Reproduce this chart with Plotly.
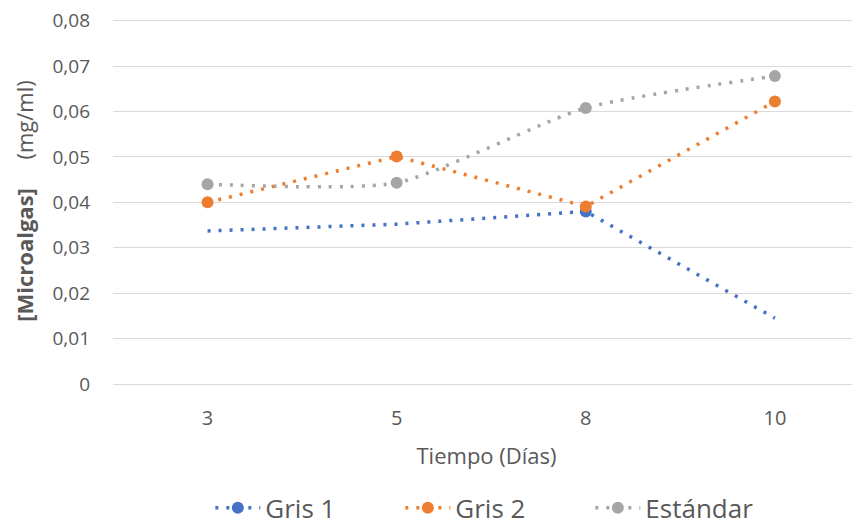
import plotly.graph_objects as go

dias = ["3", "5", "8", "10"]
gris1 = [0.0337, 0.0352, 0.0380, 0.0145]
gris2 = [0.0400, 0.0501, 0.0391, 0.0622]
estandar = [0.0440, 0.0443, 0.0608, 0.0678]
yticks = [0, 0.01, 0.02, 0.03, 0.04, 0.05, 0.06, 0.07, 0.08]
yticklabels = ["0", "0,01", "0,02", "0,03", "0,04", "0,05", "0,06", "0,07", "0,08"]

FONT = "Open Sans"
GRAY = "#595959"
DASH = "3px,8px"

fig = go.Figure()
# Gris 1: line without markers, plus its single visible marker (day 8)
fig.add_trace(go.Scatter(
    x=dias, y=gris1, name="Gris 1", mode="lines", showlegend=False,
    legendgroup="g1",
    line=dict(color="#4472C4", width=3.5, dash=DASH),
))
fig.add_trace(go.Scatter(
    x=[dias[2]], y=[gris1[2]], name="Gris 1", mode="lines+markers",
    legendgroup="g1", legendrank=1,
    line=dict(color="#4472C4", width=3.5, dash=DASH),
    marker=dict(color="#4472C4", size=12),
))
fig.add_trace(go.Scatter(
    x=dias, y=gris2, name="Gris 2", mode="lines+markers", legendrank=2,
    line=dict(color="#ED7D31", width=3.5, dash=DASH),
    marker=dict(color="#ED7D31", size=12),
))
fig.add_trace(go.Scatter(
    x=dias, y=estandar, name="Estándar", mode="lines+markers", legendrank=3,
    line=dict(color="#A5A5A5", width=3.5, dash=DASH, shape="spline", smoothing=0.6),
    marker=dict(color="#A5A5A5", size=12),
))

fig.update_layout(
    width=852, height=517,
    margin=dict(l=105, r=0, t=10, b=141),
    paper_bgcolor="white", plot_bgcolor="white",
    font=dict(family=FONT, size=19, color=GRAY),
    showlegend=True,
    legend=dict(orientation="h", xref="container", yref="container",
                x=0.572, xanchor="center", y=0.033, yanchor="middle",
                font=dict(size=26, color=GRAY), itemwidth=45,
                entrywidth=130, entrywidthmode="pixels",
                traceorder="normal"),
    xaxis=dict(
        type="category", range=[-0.5, 3.45], automargin=False,
        showgrid=False, showline=True, linecolor="#D9D9D9", linewidth=1,
        ticks="", ticklabelstandoff=16,
        tickfont=dict(size=20, color=GRAY),
        title=dict(text="Tiempo (Días)", font=dict(size=22, color=GRAY), standoff=18),
        zeroline=False,
    ),
    yaxis=dict(
        range=[0, 0.0806], tickvals=yticks, ticktext=yticklabels, automargin=False,
        showgrid=True, gridcolor="#D9D9D9", gridwidth=1,
        zeroline=False, showline=False, ticks="",
        ticklabelstandoff=22, ticklabeloverflow="allow",
        tickfont=dict(size=19, color=GRAY),
        title=dict(text="<b>[Microalgas]</b>     (mg/ml)", font=dict(size=22, color=GRAY), standoff=12),
    ),
)

fig.write_html("out.html")
